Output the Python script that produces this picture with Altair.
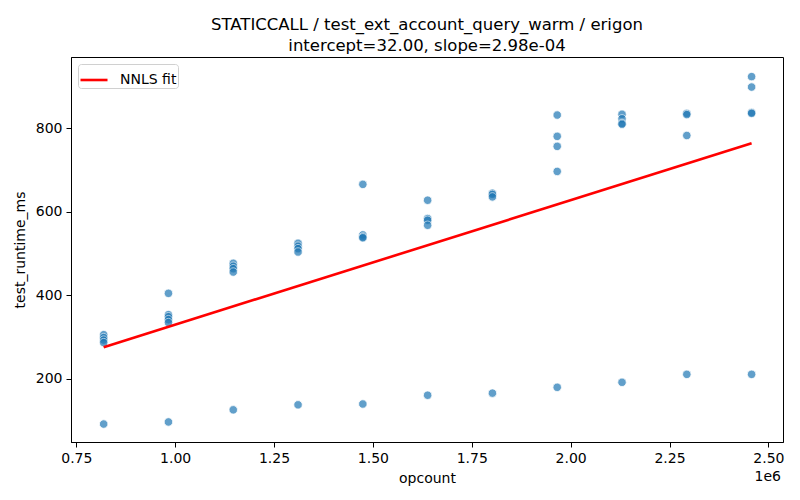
import altair as alt
import pandas as pd

# opcount levels and measured runtimes (ms) per level
opcount_levels = [819200, 983040, 1146880, 1310720, 1474560, 1638400,
                  1802240, 1966080, 2129920, 2293760, 2457600]
runtimes_per_level = [
    [306, 299, 293, 287, 92],
    [405, 354, 349, 342, 335, 97],
    [477, 470, 464, 456, 126],
    [525, 518, 512, 504, 138],
    [666, 545, 540, 538, 140],
    [628, 584, 580, 568, 161],
    [645, 642, 636, 166],
    [832, 781, 757, 697, 180],
    [834, 823, 812, 810, 192],
    [836, 833, 783, 211],
    [924, 899, 838, 836, 211],
]

fit_x = [819200, 2457600]
fit_y = [276.1, 764.4]
fit_label = "NNLS fit"

title_lines = ["STATICCALL / test_ext_account_query_warm / erigon",
               "intercept=32.00, slope=2.98e-04"]

x_ticks = [750000, 1000000, 1250000, 1500000, 1750000, 2000000, 2250000, 2500000]
y_ticks = [200, 400, 600, 800]
x_domain = [736600, 2537000]
y_domain = [49, 971]

rows = []
for xv, ys in zip(opcount_levels, runtimes_per_level):
    for yv in ys:
        rows.append({"opcount": xv, "test_runtime_ms": yv})
pts = pd.DataFrame(rows)
fit = pd.DataFrame({"opcount": fit_x, "test_runtime_ms": fit_y, "series": [fit_label] * 2})

FONT = "DejaVu Sans"

xscale = alt.Scale(domain=x_domain, nice=False, zero=False)
yscale = alt.Scale(domain=y_domain, nice=False, zero=False)

xaxis = alt.Axis(values=x_ticks, labelExpr="format(datum.value/1e6, '.2f')",
                 title="opcount", grid=False)
yaxis = alt.Axis(values=y_ticks, title="test_runtime_ms", grid=False)

points = alt.Chart(pts).mark_circle(
    size=72, color="#1f77b4", opacity=0.7, stroke="white", strokeWidth=0.8
).encode(
    x=alt.X("opcount:Q", scale=xscale, axis=xaxis),
    y=alt.Y("test_runtime_ms:Q", scale=yscale, axis=yaxis),
)

line = alt.Chart(fit).mark_line(strokeWidth=2.6).encode(
    x=alt.X("opcount:Q", scale=xscale),
    y=alt.Y("test_runtime_ms:Q", scale=yscale),
    color=alt.Color("series:N", scale=alt.Scale(domain=[fit_label], range=["red"]),
                    legend=alt.Legend(title=None, orient="top-left", offset=7,
                                      fillColor="white", strokeColor="#d0d0d0",
                                      padding=1, cornerRadius=3,
                                      symbolType="stroke", symbolStrokeWidth=2.6,
                                      symbolSize=730, labelFontSize=14,
                                      labelOffset=11,
                                      labelFont=FONT, labelColor="black")),
)

offset_text = alt.Chart(pd.DataFrame({"t": ["1e6"]})).mark_text(
    align="right", baseline="middle", fontSize=14, font=FONT, color="black"
).encode(x=alt.value(710), y=alt.value(420), text="t:N")

chart = alt.layer(points, line, offset_text).properties(
    width=712, height=385,
    autosize=alt.AutoSizeParams(type="none"),
    padding={"left": 63, "top": 49, "right": 9, "bottom": 50},
    title=alt.Title(text=title_lines, fontSize=16.5, font=FONT, fontWeight="normal",
                    color="black", anchor="middle", offset=3, lineHeight=21),
).configure_view(
    stroke="black", strokeWidth=1
).configure_axis(
    domainColor="black", tickColor="black", labelColor="black", titleColor="black",
    labelFont=FONT, titleFont=FONT, labelFontSize=14, titleFontSize=14,
    titleFontWeight="normal", tickSize=5, labelPadding=4,
).configure_axisX(titlePadding=6).configure_axisY(titlePadding=8)

chart.save("out.html", embed_options={"renderer": "svg", "actions": False})
